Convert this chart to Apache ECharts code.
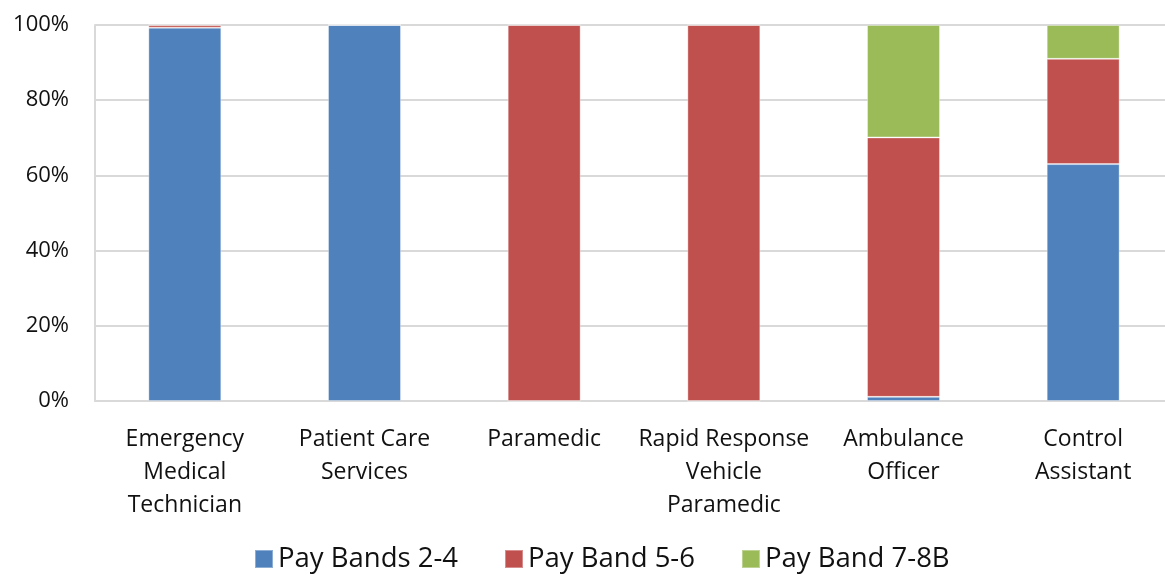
<!DOCTYPE html>
<html>
<head>
<meta charset="utf-8">
<script src="https://cdn.jsdelivr.net/npm/echarts@6/dist/echarts.min.js"></script>
<style>
  html, body { margin: 0; padding: 0; background: #fff; overflow: hidden; }
  #chart { width: 1173px; height: 575px; }
</style>
</head>
<body>
<div id="chart"></div>
<script>
var categories = [
  'Emergency\nMedical\nTechnician',
  'Patient Care\nServices',
  'Paramedic',
  'Rapid Response\nVehicle\nParamedic',
  'Ambulance\nOfficer',
  'Control\nAssistant'
]
var band24 = [99.3, 100, 0, 0, 1.1, 63]
var band56 = [0.7, 0, 100, 100, 69, 28]
var band78 = [0, 0, 0, 0, 29.9, 9]
var yTicks = [0, 20, 40, 60, 80, 100]

var font = 'Open Sans, Calibri, sans-serif'

function stack (name, data, color) {
  return {
    name: name,
    type: 'bar',
    stack: 'all',
    barWidth: '40.6%',
    data: data,
    itemStyle: { color: color, borderColor: 'rgba(255,255,255,0.35)', borderWidth: 1 }
  }
}

var myChart = echarts.init(document.getElementById('chart'))

myChart.setOption({
  animation: false,
  textStyle: { fontFamily: font },
  grid: { left: 95, right: 0, top: 25, bottom: 174, containLabel: false },
  legend: {
    top: 545,
    left: 254,
    padding: 0,
    itemWidth: 18,
    itemHeight: 18,
    itemGap: 46,
    icon: 'rect',
    textStyle: { fontSize: 27.5, color: '#111', fontFamily: font },
    data: ['Pay Bands 2-4', 'Pay Band 5-6', 'Pay Band 7-8B']
  },
  xAxis: {
    type: 'category',
    data: categories,
    axisLine: { lineStyle: { color: '#d9d9d9', width: 2 } },
    axisTick: { show: false },
    axisLabel: { fontSize: 23, color: '#111', lineHeight: 33, margin: 22, interval: 0 }
  },
  yAxis: {
    type: 'value',
    min: yTicks[0],
    max: yTicks[yTicks.length - 1],
    interval: 20,
    axisLine: { show: true, lineStyle: { color: '#d9d9d9', width: 2 } },
    axisTick: { show: false },
    splitLine: { lineStyle: { color: '#d9d9d9', width: 2 } },
    axisLabel: { fontSize: 22, color: '#111', margin: 26, formatter: '{value}%' }
  },
  series: [
    stack('Pay Bands 2-4', band24, '#4F81BD'),
    stack('Pay Band 5-6', band56, '#C0504D'),
    stack('Pay Band 7-8B', band78, '#9BBB59')
  ]
})
</script>
</body>
</html>
